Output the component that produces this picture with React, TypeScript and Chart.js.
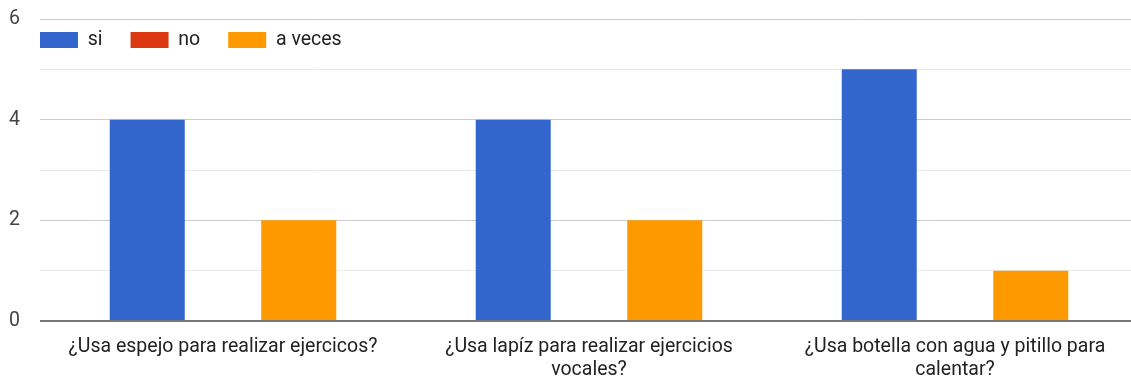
import React, { useEffect, useRef } from "react";
import { Chart, registerables } from "chart.js";

Chart.register(...registerables);

const categories: string[][] = [
  ["¿Usa espejo para realizar ejercicos?"],
  ["¿Usa lapíz para realizar ejercicios", "vocales?"],
  ["¿Usa botella con agua y pitillo para", "calentar?"],
];
const seriesNames = ["si", "no", "a veces"];
const siValues = [4, 4, 5];
const noValues = [0, 0, 0];
const aVecesValues = [2, 2, 1];
const colors = ["#3366cc", "#dc3912", "#ff9900"];
const yMin = 0;
const yMax = 6;

const FONT = "Roboto, Arial, sans-serif";
const FONT_SIZE = 19.5;
const LEGEND_PAD = 28;
const TARGET_TOP = 19;

const legendInside = {
  id: "legendInside",
  beforeInit(chart: any) {
    const legend = chart.legend;
    if (!legend) return;
    const origFit = legend.fit.bind(legend);
    legend.fit = function () {
      origFit();
      this.height = 0;
    };
  },
  afterLayout(chart: any) {
    const legend = chart.legend;
    if (!legend) return;
    const ca = chart.chartArea;
    legend.left = ca.left - LEGEND_PAD;
    legend.right = chart.width;
    legend.width = legend.right - legend.left;
    legend.top = 30.25 - LEGEND_PAD;
    legend.height = LEGEND_PAD * 2 + 24;
    legend.bottom = legend.top + legend.height;
  },
};

export default function App() {
  const ref = useRef<HTMLCanvasElement | null>(null);

  useEffect(() => {
    if (!ref.current) return;
    const chart: any = new Chart(ref.current, {
      type: "bar",
      data: {
        labels: categories,
        datasets: [
          { label: seriesNames[0], data: siValues, backgroundColor: colors[0] },
          { label: seriesNames[1], data: noValues, backgroundColor: colors[1] },
          { label: seriesNames[2], data: aVecesValues, backgroundColor: colors[2] },
        ],
      },
      options: {
        animation: false,
        responsive: false,
        maintainAspectRatio: false,
        layout: { padding: { top: TARGET_TOP, left: 0, right: 0, bottom: 0 } },
        datasets: {
          bar: { barPercentage: 0.99, categoryPercentage: 0.621 },
        },
        plugins: {
          tooltip: { enabled: false },
          legend: {
            position: "top",
            align: "start",
            labels: {
              boxWidth: 38,
              boxHeight: 16,
              padding: LEGEND_PAD,
              color: "#222",
              font: { family: FONT, size: FONT_SIZE },
            },
          },
        },
        scales: {
          x: {
            grid: { display: false, drawTicks: false },
            border: { display: false },
            ticks: {
              color: "#222",
              font: { family: FONT, size: FONT_SIZE, lineHeight: 1.2 },
              padding: 14,
              maxRotation: 0,
              autoSkip: false,
            },
            afterFit(scale: any) {
              scale.height = 59;
            },
          },
          y: {
            min: yMin,
            max: yMax,
            grid: {
              drawTicks: false,
              color: (ctx: any) => {
                const v = ctx.tick ? ctx.tick.value : 0;
                if (v === 0) return "#777";
                return v % 2 === 0 ? "#cccccc" : "#ebebeb";
              },
              lineWidth: (ctx: any) => (ctx.tick && ctx.tick.value === 0 ? 2 : 1),
            },
            border: { display: false },
            ticks: {
              stepSize: 1,
              color: "#444",
              padding: 20,
              font: { family: FONT, size: FONT_SIZE },
              callback: (v: any) => (Number(v) % 2 === 0 ? String(v) : ""),
            },
            afterFit(scale: any) {
              scale.width = 40;
              scale.paddingTop = 0;
              scale.paddingBottom = 0;
            },
          },
        },
      },
      plugins: [legendInside],
    });
    return () => chart.destroy();
  }, []);

  return (
    <div
      style={{
        position: "fixed",
        left: 0,
        top: 0,
        width: 1131,
        height: 380,
        overflow: "hidden",
        background: "#fff",
      }}
    >
      <canvas ref={ref} width={1138} height={380} style={{ width: 1138, height: 380, display: "block" }} />
    </div>
  );
}
